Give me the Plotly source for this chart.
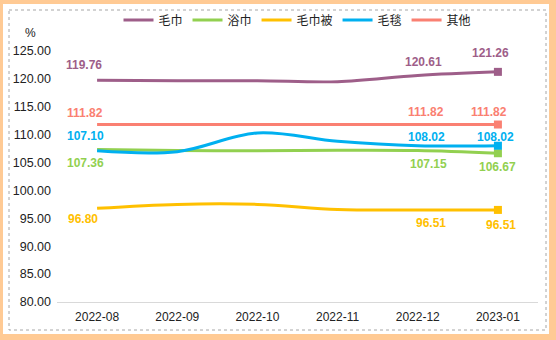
import plotly.graph_objects as go

months = ["2022-08", "2022-09", "2022-10", "2022-11", "2022-12", "2023-01"]
series_names = ["毛巾", "浴巾", "毛巾被", "毛毯", "其他"]
towel = [119.76, 119.65, 119.68, 119.5, 120.61, 121.26]
bath_towel = [107.36, 107.15, 107.1, 107.2, 107.15, 106.67]
towel_quilt = [96.80, 97.5, 97.5, 96.6, 96.51, 96.51]
blanket = [107.10, 106.95, 110.3, 108.8, 108.02, 108.02]
other = [111.82, 111.82, 111.82, 111.82, 111.82, 111.82]
yticks = [80, 85, 90, 95, 100, 105, 110, 115, 120, 125]

values = [towel, bath_towel, towel_quilt, blanket, other]
colors = ["#9E5E89", "#92D050", "#FFC000", "#00B0F0", "#FA8072"]
label_idx = [0, 4, 5]
# label offsets (px) per series for points 0,4,5: (xshift, yshift)
offsets = [
    [(-13, 15), (6, 13), (-7, 19)],
    [(-12, -14), (11, -13), (0, -14)],
    [(-14, -11), (13, -13), (3, -15)],
    [(-12, 15), (9, 9), (-2, 9)],
    [(-12, 12), (8, 13), (-9, 13)],
]

FONT = "Liberation Sans, Noto Sans CJK SC, sans-serif"
fig = go.Figure()
for name, vals, col in zip(series_names, values, colors):
    fig.add_trace(go.Scatter(
        x=months, y=vals, name=name, mode="lines",
        line=dict(color=col, width=3, shape="spline", smoothing=1),
        hoverinfo="skip",
    ))
for name, vals, col in zip(series_names, values, colors):
    fig.add_trace(go.Scatter(
        x=months[-1:], y=vals[-1:], name=name, mode="markers", showlegend=False,
        marker=dict(symbol="square", size=8, color=col),
        hoverinfo="skip",
    ))

annotations = []
for vals, col, offs in zip(values, colors, offsets):
    for i, (dx, dy) in zip(label_idx, offs):
        annotations.append(dict(
            x=months[i], y=vals[i], xref="x", yref="y",
            text=f"{vals[i]:.2f}", showarrow=False,
            xshift=dx, yshift=dy,
            font=dict(family=FONT, size=12, color=col, weight="bold"),
        ))

L, R, T, B = 57, 18, 51, 38
W, H = 556, 340
pw, ph = W - L - R, H - T - B
def px(x):
    return (x - L) / pw
def py(y):
    return (H - B - y) / ph

annotations.append(dict(
    x=px(30), y=py(33), xref="paper", yref="paper", text="%",
    xanchor="center", yanchor="middle",
    showarrow=False, font=dict(family=FONT, size=12, color="#222"),
))

shapes = [
    dict(type="rect", xref="paper", yref="paper", x0=px(3), x1=px(549), y0=py(4), y1=py(334),
         fillcolor="white", line=dict(width=0), layer="below"),
    dict(type="rect", xref="paper", yref="paper", x0=px(9), x1=px(546), y0=py(10), y1=py(330),
         fillcolor="rgba(0,0,0,0)", line=dict(color="#A6A6A6", width=1, dash="dot"), layer="below"),
]

fig.update_layout(
    width=W, height=H,
    margin=dict(l=L, r=R, t=T, b=B, autoexpand=False),
    paper_bgcolor="#FFCA94",
    plot_bgcolor="rgba(0,0,0,0)",
    font=dict(family=FONT, size=12, color="#222"),
    showlegend=True,
    legend=dict(orientation="h", x=0.5, xanchor="center", y=py(20), yanchor="middle",
                font=dict(family=FONT, size=12, color="#222"),
                bgcolor="rgba(0,0,0,0)", itemwidth=30, tracegroupgap=0),
    annotations=annotations,
    shapes=shapes,
    xaxis=dict(type="category", range=[-0.5, 5.5], showgrid=False, showline=True,
               linecolor="#D9D9D9", linewidth=1, ticks="", ticklabelstandoff=4,
               tickfont=dict(size=12, color="#222"), zeroline=False),
    yaxis=dict(range=[80, 125], tickvals=yticks, tickformat=".2f", showgrid=False,
               showline=False, ticks="", zeroline=False, ticklabelstandoff=5,
               tickfont=dict(size=12.5, color="#222")),
)

fig.write_html("out.html")
